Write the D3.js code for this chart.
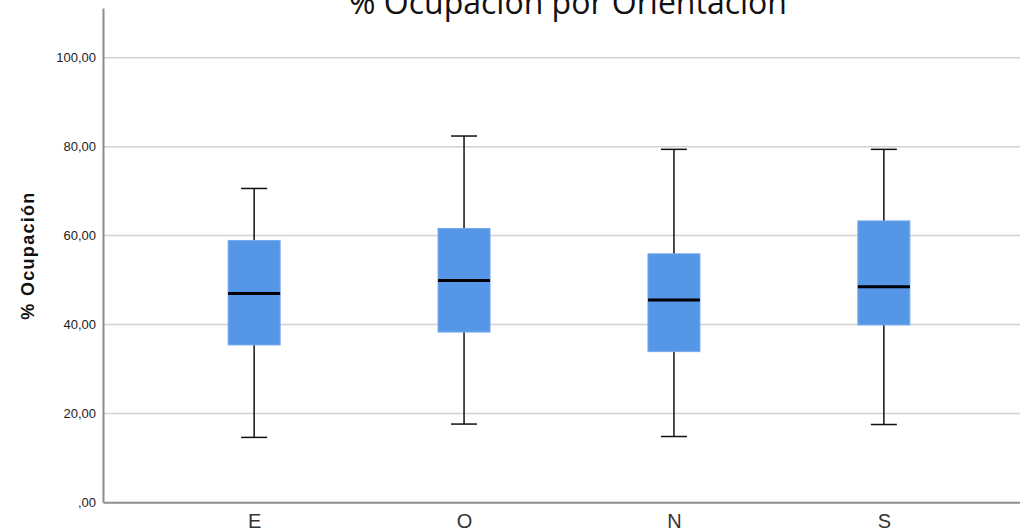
<!DOCTYPE html>
<html>
<head>
<meta charset="utf-8">
<script src="https://cdn.jsdelivr.net/npm/d3@7"></script>
<style>
  html, body { margin: 0; padding: 0; background: #fff; }
  svg { display: block; }
</style>
</head>
<body>
<div id="grafico"></div>
<script>
// datos
const orientaciones = ['E', 'O', 'N', 'S'];
const minimos   = [14.6, 17.6, 14.8, 17.5];
const q1        = [35.4, 38.3, 33.9, 39.9];
const medianas  = [47.0, 49.9, 45.5, 48.5];
const q3        = [58.9, 61.6, 55.9, 63.3];
const maximos   = [70.6, 82.4, 79.4, 79.4];
const ticksY    = [0, 20, 40, 60, 80, 100];

const datos = orientaciones.map((o, i) => ({
  o, min: minimos[i], q1: q1[i], med: medianas[i], q3: q3[i], max: maximos[i]
}));

const width = 1020, height = 532;
const margenIzq = 103, baseY = 502.3, techoY = 8;

const svg = d3.select('#grafico').append('svg')
  .attr('width', width)
  .attr('height', height);

const x = d3.scalePoint()
  .domain(orientaciones)
  .range([margenIzq, 1035])
  .padding(0.72);

const y = d3.scaleLinear()
  .domain([0, 111.2])
  .range([baseY, techoY]);

// rejilla
svg.append('g')
  .selectAll('line')
  .data(ticksY.filter(d => d > 0))
  .enter().append('line')
  .attr('x1', margenIzq).attr('x2', width)
  .attr('y1', d => y(d)).attr('y2', d => y(d))
  .attr('stroke', '#d2d2d2')
  .attr('stroke-width', 1.5);

// eje Y
const fmt = d => d === 0 ? ',00' : d3.format('.2f')(d).replace('.', ',');
const ejeY = svg.append('g')
  .attr('transform', `translate(${margenIzq},0)`)
  .call(d3.axisLeft(y).tickValues(ticksY).tickFormat(fmt).tickSize(0).tickPadding(7));
ejeY.select('.domain').attr('stroke', '#8c8c8c').attr('stroke-width', 2);
ejeY.selectAll('text')
  .style('font-family', 'Arial, "Liberation Sans", sans-serif')
  .style('font-size', '13px')
  .attr('fill', '#222');

// eje X
const ejeX = svg.append('g')
  .attr('transform', `translate(0,${baseY})`)
  .call(d3.axisBottom(x).tickSize(0).tickPadding(11.5));
ejeX.select('.domain').attr('stroke', '#8c8c8c').attr('stroke-width', 2);
ejeX.selectAll('text')
  .style('font-family', 'Arial, "Liberation Sans", sans-serif')
  .style('font-size', '20px')
  .attr('fill', '#333');

// cajas
const anchoCaja = 52, anchoTope = 26;
const g = svg.append('g');
const caja = g.selectAll('.caja')
  .data(datos)
  .enter().append('g')
  .attr('class', 'caja');

caja.append('line')
  .attr('x1', d => x(d.o)).attr('x2', d => x(d.o))
  .attr('y1', d => y(d.max)).attr('y2', d => y(d.min))
  .attr('stroke', '#111').attr('stroke-width', 1.5);

caja.append('line')
  .attr('x1', d => x(d.o) - anchoTope / 2).attr('x2', d => x(d.o) + anchoTope / 2)
  .attr('y1', d => y(d.max)).attr('y2', d => y(d.max))
  .attr('stroke', '#111').attr('stroke-width', 1.5);

caja.append('line')
  .attr('x1', d => x(d.o) - anchoTope / 2).attr('x2', d => x(d.o) + anchoTope / 2)
  .attr('y1', d => y(d.min)).attr('y2', d => y(d.min))
  .attr('stroke', '#111').attr('stroke-width', 1.5);

caja.append('rect')
  .attr('x', d => x(d.o) - anchoCaja / 2)
  .attr('y', d => y(d.q3))
  .attr('width', anchoCaja)
  .attr('height', d => y(d.q1) - y(d.q3))
  .attr('fill', '#5596e6')
  .attr('stroke', '#76aaee')
  .attr('stroke-width', 1);

caja.append('line')
  .attr('x1', d => x(d.o) - anchoCaja / 2).attr('x2', d => x(d.o) + anchoCaja / 2)
  .attr('y1', d => y(d.med)).attr('y2', d => y(d.med))
  .attr('stroke', '#000').attr('stroke-width', 3);

// título (cortado arriba como en el original)
svg.append('text')
  .attr('x', 568)
  .attr('y', 14)
  .attr('text-anchor', 'middle')
  .style('font-family', '"Open Sans", sans-serif')
  .style('font-size', '32px')
  .attr('fill', '#111')
  .text('% Ocupación por Orientación');

// etiqueta eje Y
svg.append('text')
  .attr('transform', `translate(34,${255.5}) rotate(-90)`)
  .attr('text-anchor', 'middle')
  .style('font-family', 'Arial, "Liberation Sans", sans-serif')
  .style('font-size', '18px')
  .style('font-weight', 'bold')
  .style('letter-spacing', '1.3px')
  .attr('fill', '#111')
  .text('% Ocupación');
</script>
</body>
</html>
